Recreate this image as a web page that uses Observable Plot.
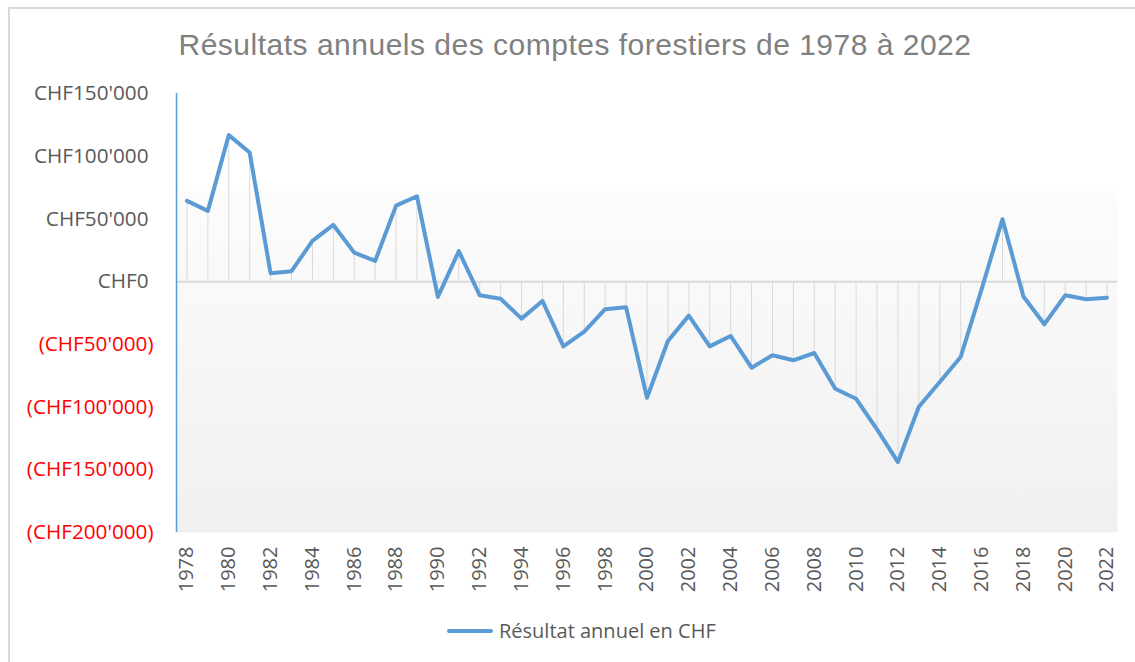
<!DOCTYPE html>
<html><head><meta charset="utf-8">
<script src="https://cdn.jsdelivr.net/npm/d3@7"></script>
<script src="https://cdn.jsdelivr.net/npm/@observablehq/plot@0.6"></script>
<style>
html,body{margin:0;padding:0;background:#fff;}
body{width:1135px;height:662px;position:relative;overflow:hidden;}
#border{position:absolute;left:8px;top:7px;width:1140px;height:670px;border:2px solid #d9d9d9;box-sizing:border-box;}
#title{position:absolute;left:0;width:1150px;top:30px;text-align:center;font-family:"Liberation Sans",Arial,sans-serif;font-size:30px;line-height:30px;letter-spacing:0.5px;color:#808080;white-space:nowrap;}
#chart{position:absolute;left:0;top:80px;}
#legend{position:absolute;left:447px;top:621px;display:flex;align-items:center;font-family:"Open Sans",sans-serif;font-size:20px;line-height:20px;color:#595959;white-space:nowrap;}
#legend span{margin-left:6px;}
</style></head><body>
<div id="border"></div>
<div id="title">Résultats annuels des comptes forestiers de 1978 à 2022</div>
<div id="chart"></div>
<div id="legend"><svg width="46" height="8"><line x1="2" x2="44" y1="4" y2="4" stroke="#5b9bd5" stroke-width="4" stroke-linecap="round"/></svg><span>Résultat annuel en CHF</span></div>
<script>
const years = [1978,1979,1980,1981,1982,1983,1984,1985,1986,1987,1988,1989,1990,1991,1992,1993,1994,1995,1996,1997,1998,1999,2000,2001,2002,2003,2004,2005,2006,2007,2008,2009,2010,2011,2012,2013,2014,2015,2016,2017,2018,2019,2020,2021,2022];
const values = [64400,56400,116800,102900,6700,8300,32500,45200,23100,16500,60600,68100,-12200,24300,-10900,-13600,-29500,-15400,-51600,-39900,-22000,-20500,-92600,-47300,-27100,-51600,-43300,-68600,-58700,-62700,-56900,-85400,-93400,-117800,-143900,-99700,-80000,-60100,-6100,49800,-11800,-34000,-10900,-14000,-12800];
const yTicks = [150000,100000,50000,0,-50000,-100000,-150000,-200000];
const xTicks = years.filter((y,i) => i % 2 === 0);
const xDomain = [1977.5, 2022.5];
const yDomain = [-200000, 150000];
const seriesName = "Résultat annuel en CHF";

const data = years.map((year,i) => ({year, value: values[i]}));
const fmt = v => { const s = "CHF" + d3.format(",")(Math.abs(v)).replace(/,/g,"'"); return v < 0 ? "(" + s + ")" : s; };

const plot = Plot.plot({
  width: 1135, height: 520,
  marginTop: 13, marginBottom: 68, marginLeft: 176, marginRight: 18,
  style: {fontFamily: "'Open Sans', sans-serif", fontSize: "20.7px", background: "transparent", overflow: "visible"},
  x: {domain: xDomain},
  y: {domain: yDomain},
  marks: [
    Plot.frame({fill: "url(#bgGrad)", stroke: null}),
    Plot.ruleX(data, {x: "year", y1: 0, y2: "value", stroke: "#d9d9d9", strokeWidth: 1}),
    Plot.ruleY([0], {stroke: "#d9d9d9", strokeWidth: 2}),
    Plot.ruleX([xDomain[0]], {stroke: "#5b9bd5", strokeWidth: 1.5}),
    Plot.line(data, {x: "year", y: "value", stroke: "#5b9bd5", strokeWidth: 4, strokeLinejoin: "round", strokeLinecap: "round"}),
    Plot.axisY({ticks: yTicks.filter(v => v >= 0), tickSize: 0, tickPadding: 28, tickFormat: fmt, fill: "#595959", label: null}),
    Plot.axisY({ticks: yTicks.filter(v => v < 0), tickSize: 0, tickPadding: 23, tickFormat: fmt, fill: "#ff0000", label: null}),
    Plot.axisX({ticks: xTicks, tickSize: 0, tickPadding: 14, tickRotate: -90, tickFormat: d => String(d), fill: "#595959", label: null, fontSize: 20})
  ]
});
d3.select(plot).insert("defs", ":first-child").html(
  '<linearGradient id="bgGrad" x1="0" y1="0" x2="0" y2="1">' +
  '<stop offset="0" stop-color="#ffffff"/><stop offset="0.22" stop-color="#ffffff"/>' +
  '<stop offset="0.222" stop-color="#fcfcfc"/><stop offset="1" stop-color="#f0f0f0"/></linearGradient>');
document.getElementById("chart").appendChild(plot);
</script>
</body></html>
